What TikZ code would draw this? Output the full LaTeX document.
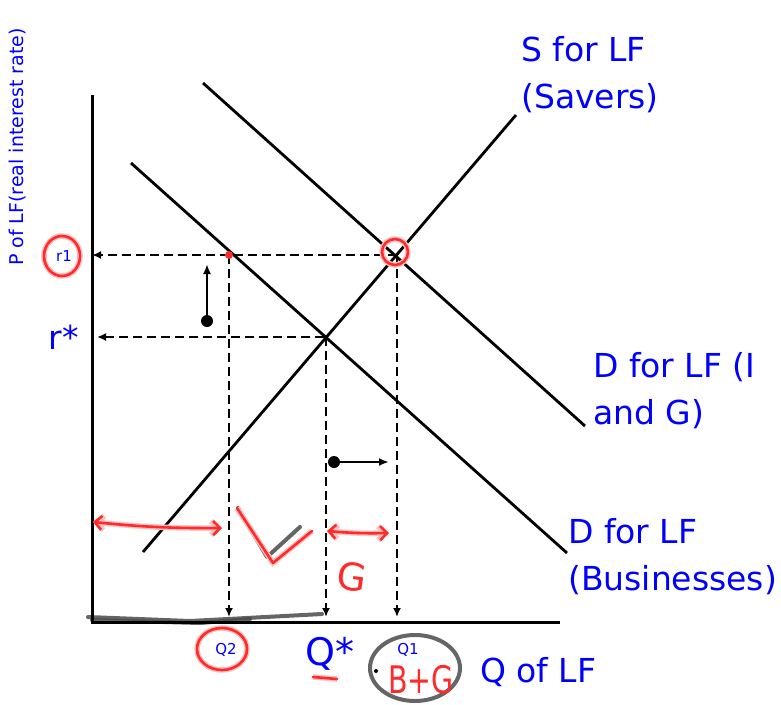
\documentclass[tikz,border=0pt]{standalone}
\usepackage{fontspec}
\setmainfont{DejaVu Sans}
\usetikzlibrary{arrows.meta,positioning}
\definecolor{lfBlue}{HTML}{0000FF}
\definecolor{lfRed}{HTML}{FF2A2A}
\definecolor{lfGray}{HTML}{4A4A4A}
\tikzset{
    >=Latex,
    axis/.style={line width=3pt, draw=black},
    curve/.style={line width=2.8pt, draw=black},
    guide/.style={-{Latex[length=9pt,width=8pt]}, line width=2.6pt, dash pattern=on 9pt off 5pt},
    shiftarrow/.style={-{Latex[length=10pt,width=8pt]}, line width=2.6pt},
    knob/.style={circle, fill=black, inner sep=0pt, minimum size=12pt},
    lbl/.style={text=lfBlue, font=\fontsize{33}{47}\selectfont, align=left, inner sep=0pt},
    small/.style={text=lfBlue, font=\fontsize{15}{17}\selectfont, inner sep=0pt},
    ylbl/.style={text=lfBlue, font=\fontsize{19}{21}\selectfont, inner sep=0pt},
    pen/.style={draw=lfRed, line width=2.6pt, line cap=round, line join=round, preaction={draw=lfRed!30, line width=5.5pt}},
    redarrow/.style={pen, {Straight Barb[length=7pt,width=14pt]}-{Straight Barb[length=7pt,width=14pt]}},
    pentext/.style={text=lfRed, font=\fontsize{38}{40}\selectfont, inner sep=0pt},
    pencil/.style={draw=lfGray, line width=4pt, line cap=round, line join=round, opacity=0.85}
}
\begin{document}
\begin{tikzpicture}[x=1pt, y=-1pt]
\useasboundingbox (0,0) rectangle (781,704);
\coordinate (O) at (92,622); \coordinate (ytop) at (92,95); \coordinate (xend) at (560,622);
\coordinate (s0) at (143,552); \coordinate (s1) at (516,115);
\coordinate (b0) at (131,163); \coordinate (b1) at (567,553);
\coordinate (g0) at (203,83); \coordinate (g1) at (585,426);
\coordinate (e0) at (326,337); \coordinate (e1) at (397,255); \coordinate (e2) at (229,255);
% pencil marks under the axis
\draw[pencil] (88,617) -- (190,621) -- (322,614); \draw[pencil] (92,620) -- (200,623) -- (250,619);
\draw[axis] (ytop) -- (O) -- (xend);
\draw[curve] (s0)--(s1); \draw[curve] (b0)--(b1); \draw[curve] (g0)--(g1);
% guide lines
\draw[guide] (e1) -- (O|-e1); \draw[guide] ([xshift=-2pt]e0) -- ([xshift=5pt]O|-e0);
\draw[guide] (e2) -- ([yshift=5pt]e2|-O); \draw[guide] (e0) -- ([yshift=5pt]e0|-O); \draw[guide] (e1) -- ([yshift=5pt]e1|-O);
% shifts
\node[knob] (up0) at (207,321) {}; \coordinate (up1) at (207,264);
\node[knob] (rt0) at (334,462) {}; \coordinate (rt1) at (389,462);
\draw[shiftarrow] (up0.center) -- (up1); \draw[shiftarrow] (rt0.center) -- (rt1);
% labels
\node[lbl, anchor=north west] (slbl) at (521,36) {S for LF\\(Savers)};
\node[lbl, anchor=north west] (glbl) at (593,352) {D for LF (I\\and G)};
\node[lbl, anchor=north west] (blbl) at (568,518) {D for LF\\(Businesses)};
\node[lbl] (rstar) at (64,337) {r*};
\node[lbl, font=\fontsize{38}{40}\selectfont] (qstar) at (330,654) {Q*};
\node[lbl, anchor=west] (qlf) at (480,672) {Q of LF};
\node[small] (r1) at (64,256) {r1}; \node[small] (q2) at (226,650) {Q2}; \node[small] (q1) at (408,650) {Q1};
\node[ylbl, rotate=90] (plf) at (18,147) {P of LF(real interest rate)};
% red marks
\draw[pen] (62,256) ellipse (18pt and 20pt); \draw[pen] (222,649) ellipse (25pt and 21pt);
\draw[pen] (395,252) circle (13pt); \fill[lfRed] (e2) circle (4pt);
\draw[redarrow] (93,522) to[bend right=3] (222,528); \draw[redarrow] (327,531) to[bend right=3] (389,533);
\draw[pencil] (238,508) -- (267,557) -- (300,527); \draw[pen] (237,508) -- (273,563) -- (312,531);
\node[pentext, rotate=-8] (gmark) at (352,577) {G};
\draw[pen] (313,677) -- (337,679);
\draw[pencil] (415,668) ellipse (45pt and 33pt); \fill (376,671) circle (2pt);
\node[pentext, xscale=0.75] (bg) at (421,680) {B+G};
\end{tikzpicture}
\end{document}
